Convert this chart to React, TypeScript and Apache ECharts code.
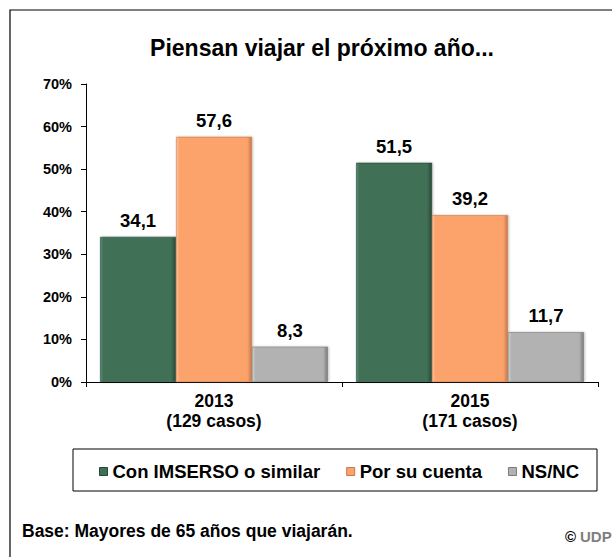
import React, { useEffect, useRef } from "react";
import * as echarts from "echarts";

const categories = ["2013\n(129 casos)", "2015\n(171 casos)"];
const seriesNames = ["Con IMSERSO o similar", "Por su cuenta", "NS/NC"];
const conImserso = [34.1, 51.5];
const porSuCuenta = [57.6, 39.2];
const nsnc = [8.3, 11.7];
const yTicks = [0, 10, 20, 30, 40, 50, 60, 70];

const FONT = "'Liberation Sans', Arial, sans-serif";

const colors = [
  { main: "#3f7055", light: "#5a8a70", dark: "#28473a" },
  { main: "#fca36c", light: "#fdc49e", dark: "#c8784a" },
  { main: "#b2b2b2", light: "#d4d4d4", dark: "#7a7a7a" },
];

function barStyle(i: number) {
  const c = colors[i];
  return {
    color: {
      type: "linear",
      x: 0,
      y: 0,
      x2: 1,
      y2: 0,
      colorStops: [
        { offset: 0, color: c.light },
        { offset: 0.04, color: c.main },
        { offset: 0.94, color: c.main },
        { offset: 1, color: c.dark },
      ],
    },
    borderColor: c.dark,
    borderWidth: 0.6,
    shadowColor: "rgba(0,0,0,0.25)",
    shadowBlur: 2,
    shadowOffsetX: 1,
    shadowOffsetY: 0,
  };
}

export default function App() {
  const ref = useRef<HTMLDivElement>(null);
  useEffect(() => {
    if (!ref.current) return;
    const chart = echarts.init(ref.current, null, { renderer: "svg" });
    const values = [conImserso, porSuCuenta, nsnc];
    chart.setOption({
      animation: false,
      backgroundColor: "#ffffff",
      textStyle: { fontFamily: FONT },
      title: {
        text: "Piensan viajar el próximo año...",
        left: 317,
        textAlign: "center",
        top: 31,
        textStyle: { fontFamily: FONT, fontSize: 23, fontWeight: "bold", color: "#000" },
      },
      grid: { left: 86, right: 14, top: 84, bottom: 175, containLabel: false },
      legend: {
        data: seriesNames.map((n, i) => ({
          name: n,
          itemStyle: { color: colors[i].main, borderColor: colors[i].dark, borderWidth: 1 },
        })),
        left: 94,
        top: 457,
        width: 520,
        orient: "horizontal",
        itemWidth: 8,
        itemHeight: 8,
        itemGap: 26,
        icon: "rect",
        textStyle: { fontFamily: FONT, fontSize: 18.5, fontWeight: "bold", color: "#000" },
      },
      xAxis: {
        type: "category",
        data: categories,
        axisLine: { lineStyle: { color: "#000", width: 1 } },
        axisTick: { show: true, length: 5, inside: false, lineStyle: { color: "#000" } },
        axisLabel: {
          margin: 9,
          fontFamily: FONT,
          fontSize: 17.5,
          fontWeight: "bold",
          color: "#000",
          lineHeight: 20,
        },
      },
      yAxis: {
        type: "value",
        min: 0,
        max: 70,
        interval: 10,
        axisLine: { show: true, lineStyle: { color: "#000", width: 1 } },
        axisTick: { show: true, length: 5, lineStyle: { color: "#000" } },
        splitLine: { show: false },
        axisLabel: {
          margin: 14,
          fontFamily: FONT,
          fontSize: 14.5,
          fontWeight: "bold",
          color: "#000",
          formatter: (v: number) => (yTicks.includes(v) ? `${v}%` : ""),
        },
      },
      series: seriesNames.map((name, i) => ({
        name,
        type: "bar",
        data: values[i],
        barGap: "0%",
        barCategoryGap: "11%",
        itemStyle: barStyle(i),
        label: {
          show: true,
          position: "top",
          distance: 7,
          fontFamily: FONT,
          fontSize: 18.5,
          fontWeight: "bold",
          color: "#000",
          formatter: (p: any) => Number(p.value).toFixed(1).replace(".", ","),
        },
      })),
      graphic: [
        {
          type: "rect",
          shape: { x: 10, y: 10, width: 620, height: 600 },
          style: { fill: "none", stroke: "#000", lineWidth: 1.2 },
          silent: true,
        },
        {
          type: "rect",
          shape: { x: 73, y: 449, width: 524, height: 42 },
          style: { fill: "none", stroke: "#000", lineWidth: 1 },
          silent: true,
        },
        {
          type: "text",
          x: 22,
          y: 522,
          style: {
            text: "Base: Mayores de 65 años que viajarán.",
            fontFamily: FONT,
            fontSize: 17.5,
            fontWeight: "bold",
            fill: "#000",
          },
        },
        {
          type: "text",
          x: 565,
          y: 529,
          style: {
            text: "©",
            fontFamily: FONT,
            fontSize: 15,
            fontWeight: "bold",
            fill: "#000",
          },
        },
        {
          type: "text",
          x: 580,
          y: 529,
          style: {
            text: "UDP",
            fontFamily: FONT,
            fontSize: 15,
            fontWeight: "bold",
            fill: "#7f7f7f",
          },
        },
      ],
    });
    return () => chart.dispose();
  }, []);
  return (
    <div
      ref={ref}
      style={{ position: "fixed", left: 0, top: 0, width: 612, height: 557 }}
    />
  );
}
